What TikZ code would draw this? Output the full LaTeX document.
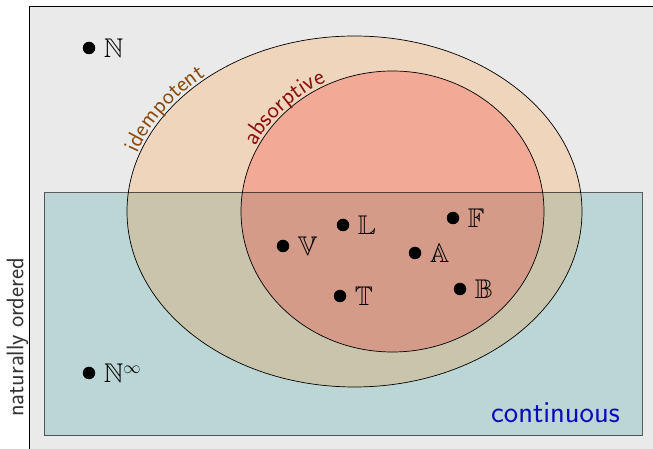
\documentclass[tikz,border=0pt]{standalone}
\usepackage{amssymb}
\usetikzlibrary{decorations.text,calc}
\definecolor{bggray}{RGB}{234,234,234}
\definecolor{outerfill}{RGB}{239,213,187}
\definecolor{innerfill}{RGB}{242,169,150}
\definecolor{rectfill}{RGB}{188,214,214}
\definecolor{rectouter}{RGB}{201,197,173}
\definecolor{rectinner}{RGB}{212,155,136}
\definecolor{idemcol}{RGB}{140,75,10}
\definecolor{abscol}{RGB}{140,15,15}
\definecolor{contcol}{RGB}{10,10,190}
\tikzset{
  dot/.style={circle,fill=black,inner sep=0pt,minimum size=12.5pt},
  lbl/.style={label distance=5pt,font=\fontsize{27}{31}\selectfont},
  setline/.style={draw=black,line width=0.7pt},
  sidetext/.style={font=\sffamily\fontsize{24}{28}\selectfont},
}
\begin{document}
\begin{tikzpicture}[x=1pt,y=1pt]
\useasboundingbox (0,0) rectangle (653,449);
\clip (0,0) rectangle (653,449);
% background
\draw[fill=bggray,line width=1pt] (29,-20) rectangle (680,442);
% centers
\coordinate (oc) at (354.5,237.5);
\coordinate (ic) at (392.5,237.5);
% ellipses
\fill[outerfill] (oc) ellipse [x radius=227.5, y radius=175.5];
\fill[innerfill] (ic) ellipse [x radius=151.5, y radius=140.5];
% rectangle
\fill[rectfill] (44,13) rectangle (642,256);
\begin{scope}
  \clip (44,13) rectangle (642,256);
  \fill[rectouter] (oc) ellipse [x radius=227.5, y radius=175.5];
  \fill[rectinner] (ic) ellipse [x radius=151.5, y radius=140.5];
\end{scope}
\draw[setline] (oc) ellipse [x radius=227.5, y radius=175.5];
\draw[setline] (ic) ellipse [x radius=151.5, y radius=140.5];
\draw[draw=black,draw opacity=0.6,line width=1pt] (44,13) rectangle (642,256);
% curved labels
\path[decorate,decoration={text along path,raise=2.5pt,
  text={|\sffamily\fontsize{23.5}{27}\selectfont\color{idemcol}|idempotent}}]
  ($(oc)+(161:227.5 and 175.5)$) arc[start angle=161,end angle=90,x radius=227.5,y radius=175.5];
\path[decorate,decoration={text along path,raise=2.5pt,
  text={|\sffamily\fontsize{24}{28}\selectfont\color{abscol}|absorptive}}]
  ($(ic)+(153:151.5 and 140.5)$) arc[start angle=153,end angle=70,x radius=151.5,y radius=140.5];
% points
\node[dot,label={[lbl]right:$\mathbb{N}$}] (N) at (89,401) {};
\node[dot,label={[lbl]right:$\mathbb{N}^\infty$}] (Ninf) at (89,76) {};
\node[dot,label={[lbl]right:$\mathbb{V}$}] (V) at (283,203) {};
\node[dot,label={[lbl]right:$\mathbb{L}$}] (L) at (343,224) {};
\node[dot,label={[lbl]right:$\mathbb{A}$}] (A) at (415,196) {};
\node[dot,label={[lbl]right:$\mathbb{F}$}] (F) at (453,231) {};
\node[dot,label={[lbl]right:$\mathbb{T}$}] (T) at (340,153) {};
\node[dot,label={[lbl]right:$\mathbb{B}$}] (B) at (460,160) {};
% side texts
\node[sidetext,text=black!80,rotate=90,inner sep=0pt] (nat) at (17.5,111.5) {naturally ordered};
\node[font=\sffamily\fontsize{30.5}{34}\selectfont,text=contcol,anchor=base,inner sep=0pt] (cont) at (555.5,26) {continuous};
\end{tikzpicture}
\end{document}
